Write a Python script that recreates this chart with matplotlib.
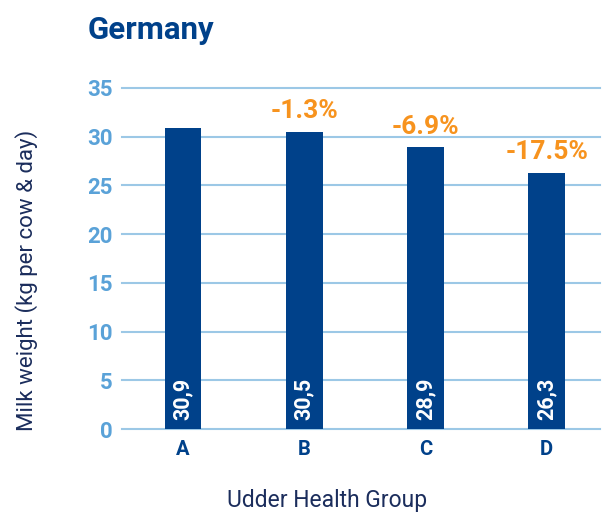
import numpy as np
import matplotlib
matplotlib.use('Agg')
import matplotlib.pyplot as plt

# 数据
groups = ['A', 'B', 'C', 'D']
milk = [30.9, 30.5, 28.9, 26.3]
bar_labels = ['30,9', '30,5', '28,9', '26,3']
changes = ['', '-1.3%', '-6.9%', '-17.5%']

navy = '#00418a'
text_navy = '#1b2d5c'
tick_blue = '#5aa2d8'
grid_blue = '#9cc8e6'
orange = '#f7931e'

plt.rcParams['font.family'] = ['Roboto', 'DejaVu Sans']

fig = plt.figure(figsize=(6.05, 5.16), dpi=100)
ax = fig.add_axes([0.2017, 0.1686, 0.79, 0.6609])

x = np.arange(len(groups))
ax.bar(x, milk, width=0.305, color=navy, zorder=3)

# 柱内数值
for xi, lab in zip(x, bar_labels):
    ax.text(xi, 0.9, lab, rotation=90, ha='center', va='bottom',
            color='white', fontsize=15.5, fontweight='bold', zorder=4)

# 变化百分比
for xi, v, c in zip(x, milk, changes):
    if c:
        ax.text(xi, v + 0.9, c, ha='center', va='bottom',
                color=orange, fontsize=19, fontweight='bold')

ax.set_xlim(-0.503, 3.44)
ax.set_ylim(0, 35)
ax.set_yticks(range(0, 36, 5))
ax.set_xticks(x)
ax.set_xticklabels(groups)
for s in ax.spines.values():
    s.set_visible(False)
ax.yaxis.grid(True, color=grid_blue, linewidth=1.5, zorder=0, clip_on=False)
ax.tick_params(axis='both', length=0)
ax.tick_params(axis='y', colors=tick_blue, labelsize=16, pad=7)
ax.tick_params(axis='x', colors=text_navy, labelsize=14.5, pad=8)
for t in ax.get_yticklabels():
    t.set_fontweight('bold')
for t in ax.get_xticklabels():
    t.set_fontweight('bold')
    t.set_color(navy)

ax.set_ylabel('Milk weight (kg per cow & day)', color=text_navy, fontsize=16)
ax.yaxis.set_label_coords(-0.176, 0.437)
ax.set_xlabel('Udder Health Group', color=text_navy, fontsize=16.5)
ax.xaxis.set_label_coords(0.429, -0.175)
fig.text(88 / 605, 1 - 30 / 516, 'Germany', color=navy, fontsize=22.5,
         fontweight='bold', ha='left', va='center')

fig.savefig('out.png', dpi=100)
